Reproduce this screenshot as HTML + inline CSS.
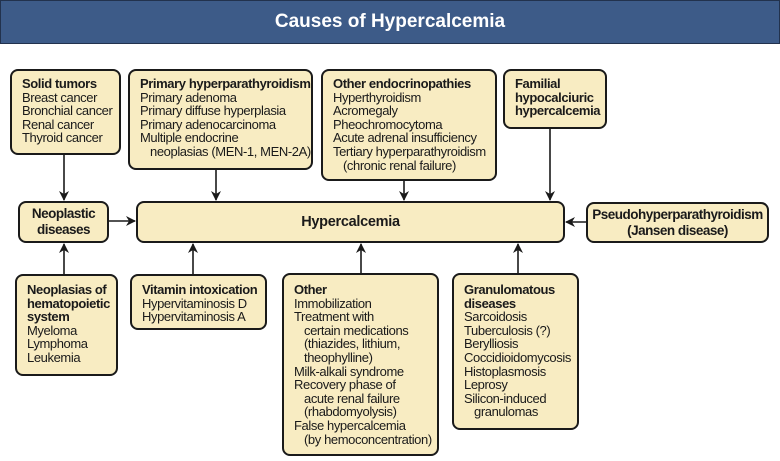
<!DOCTYPE html>
<html><head><meta charset="utf-8"><style>
body{margin:0;width:780px;height:461px;background:#fff;position:relative;overflow:hidden;font-family:"Liberation Sans",Arial,sans-serif;color:#1a1a1a}
.hd{position:absolute;left:0;top:0;width:778px;height:42px;background:#3d5b88;border:1px solid #22324d;color:#fff;font-weight:bold;font-size:19px;text-align:center;line-height:42px}
.b{position:absolute;box-sizing:border-box;background:#f8ecc2;border:2px solid #1a1a1a;border-radius:8px;font-size:13px;line-height:13.6px;padding:6px 0 0 10px;white-space:nowrap;letter-spacing:-0.4px}
.c{text-align:center;font-weight:bold;padding:0;display:flex;align-items:center;justify-content:center;font-size:13.5px;line-height:16px;letter-spacing:-0.5px}
b{font-weight:bold}
.i{padding-left:10px}
svg{position:absolute;left:0;top:0}
</style></head><body>
<div class="hd">Causes of Hypercalcemia</div>
<svg width="780" height="461"><defs><marker id="a" markerWidth="10" markerHeight="10" refX="9" refY="5" orient="auto" markerUnits="userSpaceOnUse"><path d="M0,0 L10,5 L0,10 L3,5 z" fill="#1a1a1a"/></marker></defs>
<g stroke="#1a1a1a" stroke-width="1.6" marker-end="url(#a)">
<line x1="64" y1="154" x2="64" y2="200"/>
<line x1="216" y1="169" x2="216" y2="200"/>
<line x1="404" y1="180" x2="404" y2="200"/>
<line x1="550" y1="128" x2="550" y2="200"/>
<line x1="108" y1="221" x2="135" y2="221"/>
<line x1="586" y1="222" x2="566" y2="222"/>
<line x1="64" y1="274" x2="64" y2="244"/>
<line x1="193" y1="274" x2="193" y2="244"/>
<line x1="361" y1="274" x2="361" y2="244"/>
<line x1="518" y1="274" x2="518" y2="244"/>
</g></svg>
<div class="b" style="left:10px;top:69px;width:111px;height:86px"><b>Solid tumors</b><br>Breast cancer<br>Bronchial cancer<br>Renal cancer<br>Thyroid cancer</div>
<div class="b" style="left:128px;top:69px;width:185px;height:101px"><b>Primary hyperparathyroidism</b><br>Primary adenoma<br>Primary diffuse hyperplasia<br>Primary adenocarcinoma<br>Multiple endocrine<br><span class="i">neoplasias (MEN-1, MEN-2A)</span></div>
<div class="b" style="left:321px;top:69px;width:176px;height:112px"><b>Other endocrinopathies</b><br>Hyperthyroidism<br>Acromegaly<br>Pheochromocytoma<br>Acute adrenal insufficiency<br>Tertiary hyperparathyroidism<br><span class="i">(chronic renal failure)</span></div>
<div class="b" style="left:503px;top:69px;width:104px;height:60px"><b>Familial<br>hypocalciuric<br>hypercalcemia</b></div>
<div class="b c" style="left:18px;top:201px;width:91px;height:42px">Neoplastic<br>diseases</div>
<div class="b c" style="left:136px;top:201px;width:429px;height:42px;font-size:14.5px;letter-spacing:-0.3px">Hypercalcemia</div>
<div class="b c" style="left:586px;top:202px;width:183px;height:41px">Pseudohyperparathyroidism<br>(Jansen disease)</div>
<div class="b" style="left:15px;top:274px;width:103px;height:102px;padding-top:7px"><b>Neoplasias of<br>hematopoietic<br>system</b><br>Myeloma<br>Lymphoma<br>Leukemia</div>
<div class="b" style="left:130px;top:274px;width:137px;height:56px;padding-top:7px"><b>Vitamin intoxication</b><br>Hypervitaminosis D<br>Hypervitaminosis A</div>
<div class="b" style="left:282px;top:273px;width:157px;height:183px;padding-top:8px"><b>Other</b><br>Immobilization<br>Treatment with<br><span class="i">certain medications</span><br><span class="i">(thiazides, lithium,</span><br><span class="i">theophylline)</span><br>Milk-alkali syndrome<br>Recovery phase of<br><span class="i">acute renal failure</span><br><span class="i">(rhabdomyolysis)</span><br>False hypercalcemia<br><span class="i">(by hemoconcentration)</span></div>
<div class="b" style="left:452px;top:273px;width:127px;height:157px;padding-top:8px"><b>Granulomatous<br>diseases</b><br>Sarcoidosis<br>Tuberculosis (?)<br>Berylliosis<br>Coccidioidomycosis<br>Histoplasmosis<br>Leprosy<br>Silicon-induced<br><span class="i">granulomas</span></div>
</body></html>
